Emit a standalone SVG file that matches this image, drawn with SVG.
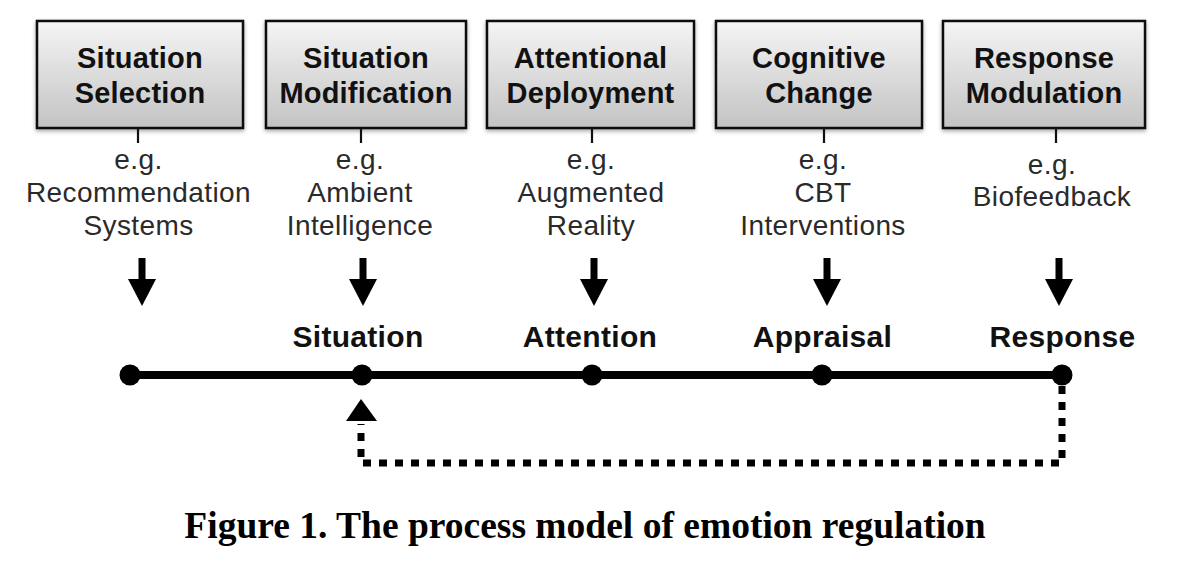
<svg xmlns="http://www.w3.org/2000/svg" width="1194" height="582" viewBox="0 0 1194 582">
<style>
.box{fill:url(#g);stroke:#111;stroke-width:2.5;filter:url(#sh)}
.title{font-family:"Liberation Sans",Arial,sans-serif;font-weight:bold;font-size:29px;letter-spacing:0.2px;fill:#111;text-anchor:middle}
.ex{font-family:"Liberation Sans",Arial,sans-serif;font-size:28px;letter-spacing:0.4px;fill:#2a2a2a;text-anchor:middle}
.lbl{font-family:"Liberation Sans",Arial,sans-serif;font-weight:bold;font-size:30px;letter-spacing:0.3px;fill:#111;text-anchor:middle}
.tick{stroke:#111;stroke-width:2.2}
.ar{fill:#000}
.cap{font-family:"Liberation Serif","Times New Roman",serif;font-weight:bold;font-size:37.5px;fill:#000;text-anchor:middle}
</style>
<defs>
<linearGradient id="g" x1="0" y1="0" x2="0" y2="1">
<stop offset="0" stop-color="#f5f5f5"/>
<stop offset="1" stop-color="#c3c3c3"/>
</linearGradient>
<filter id="sh" x="-10%" y="-10%" width="120%" height="130%">
<feGaussianBlur in="SourceAlpha" stdDeviation="2"/>
<feOffset dx="0" dy="2" result="b"/>
<feComponentTransfer><feFuncA type="linear" slope="0.35"/></feComponentTransfer>
<feMerge><feMergeNode/><feMergeNode in="SourceGraphic"/></feMerge>
</filter>
</defs>
<rect width="1194" height="582" fill="#fff"/>

<g id="node-situation-selection">
<rect class="box" x="37" y="21" width="206" height="107"/>
<text class="title" x="140" y="68">Situation</text>
<text class="title" x="140" y="103">Selection</text>
<line class="tick" x1="138" y1="128" x2="138" y2="143"/>
<text class="ex" x="138.5" y="169">e.g.</text>
<text class="ex" x="138.5" y="202">Recommendation</text>
<text class="ex" x="138.5" y="235">Systems</text>
</g>

<g id="node-situation-modification">
<rect class="box" x="266" y="21" width="200" height="107"/>
<text class="title" x="366" y="68">Situation</text>
<text class="title" x="366" y="103">Modification</text>
<line class="tick" x1="361" y1="128" x2="361" y2="143"/>
<text class="ex" x="360" y="169">e.g.</text>
<text class="ex" x="360" y="202">Ambient</text>
<text class="ex" x="360" y="235">Intelligence</text>
</g>

<g id="node-attentional-deployment">
<rect class="box" x="487" y="21" width="207" height="107"/>
<text class="title" x="590.5" y="68">Attentional</text>
<text class="title" x="590.5" y="103">Deployment</text>
<line class="tick" x1="592" y1="128" x2="592" y2="143"/>
<text class="ex" x="591" y="169">e.g.</text>
<text class="ex" x="591" y="202">Augmented</text>
<text class="ex" x="591" y="235">Reality</text>
</g>

<g id="node-cognitive-change">
<rect class="box" x="716" y="21" width="206" height="107"/>
<text class="title" x="819" y="68">Cognitive</text>
<text class="title" x="819" y="103">Change</text>
<line class="tick" x1="824" y1="128" x2="824" y2="143"/>
<text class="ex" x="823" y="169">e.g.</text>
<text class="ex" x="823" y="202">CBT</text>
<text class="ex" x="823" y="235">Interventions</text>
</g>

<g id="node-response-modulation">
<rect class="box" x="943" y="21" width="202" height="107"/>
<text class="title" x="1044" y="68">Response</text>
<text class="title" x="1044" y="103">Modulation</text>
<line class="tick" x1="1056" y1="128" x2="1056" y2="143"/>
<text class="ex" x="1052" y="174">e.g.</text>
<text class="ex" x="1052" y="206">Biofeedback</text>
</g>

<g id="node-timeline-labels">
<text class="lbl" x="358" y="347">Situation</text>
<text class="lbl" x="590" y="347">Attention</text>
<text class="lbl" x="822.5" y="347">Appraisal</text>
<text class="lbl" x="1062.5" y="347">Response</text>
</g>

<g id="connectors">
<g id="down-arrows">
<rect class="ar" x="138.5" y="258" width="7" height="22"/>
<polygon class="ar" points="128,279 156,279 142,306"/>
<rect class="ar" x="359.5" y="258" width="7" height="22"/>
<polygon class="ar" points="349,279 377,279 363,306"/>
<rect class="ar" x="590.5" y="258" width="7" height="22"/>
<polygon class="ar" points="580,279 608,279 594,306"/>
<rect class="ar" x="823.5" y="258" width="7" height="22"/>
<polygon class="ar" points="813,279 841,279 827,306"/>
<rect class="ar" x="1055.5" y="258" width="7" height="22"/>
<polygon class="ar" points="1045,279 1073,279 1059,306"/>
</g>
<g id="timeline">
<line x1="130" y1="375" x2="1062" y2="375" stroke="#000" stroke-width="8"/>
<circle cx="130" cy="375" r="10.5" fill="#000"/>
<circle cx="362" cy="375" r="10.5" fill="#000"/>
<circle cx="592" cy="375" r="10.5" fill="#000"/>
<circle cx="822" cy="375" r="10.5" fill="#000"/>
<circle cx="1062" cy="375" r="10.5" fill="#000"/>
</g>
<g id="feedback">
<path d="M1062,386 V463 H361 V424" fill="none" stroke="#000" stroke-width="7" stroke-dasharray="8 8"/>
<polygon class="ar" points="361,399 346,421 377,421"/>
</g>
</g>

<text class="cap" x="585" y="538">Figure 1. The process model of emotion regulation</text>
</svg>
